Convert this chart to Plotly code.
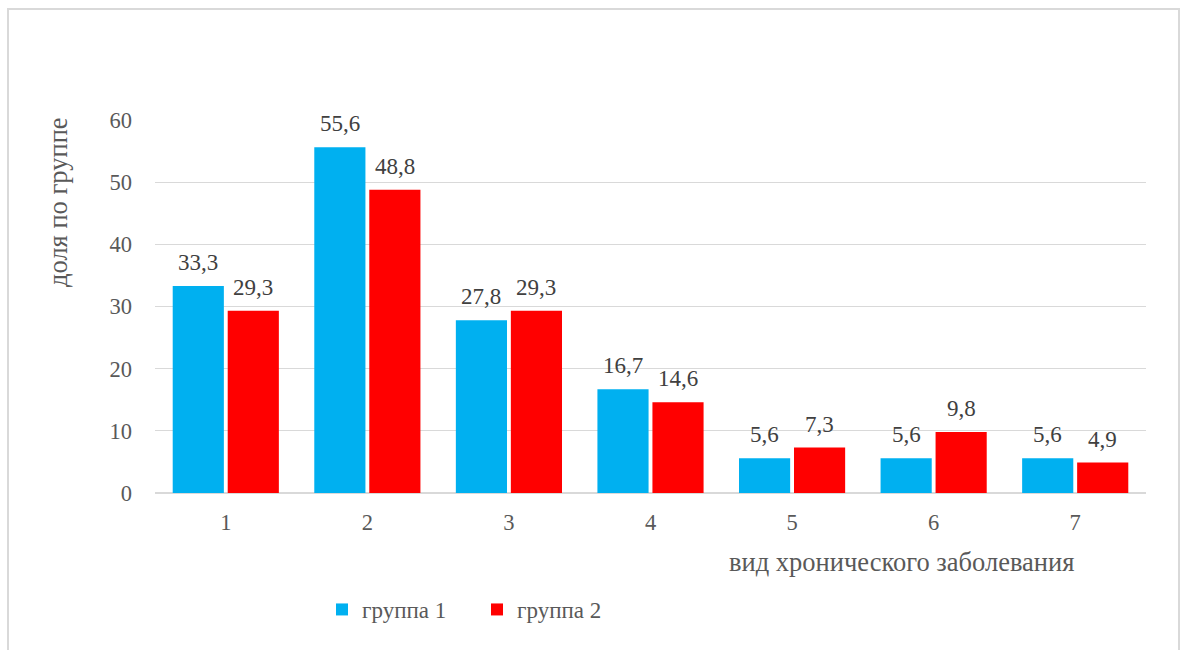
import plotly.graph_objects as go

# Chronic disease categories and share per group (%)
categories = ["1", "2", "3", "4", "5", "6", "7"]
group1 = [33.3, 55.6, 27.8, 16.7, 5.6, 5.6, 5.6]
group2 = [29.3, 48.8, 29.3, 14.6, 7.3, 9.8, 4.9]
series_names = ["группа 1", "группа 2"]
series_colors = ["#00b0f0", "#ff0000"]
y_ticks = [0, 10, 20, 30, 40, 50, 60]

W, H = 1180, 650
L, R, T, B = 155, 34, 120, 157
plot_w = W - L - R
plot_h = H - T - B

FONT = "'Liberation Serif', 'Times New Roman', serif"
TXT = "#595959"

BARGAP = 0.223
cat_w = plot_w / len(categories)
half_slot = cat_w * (1 - BARGAP) / 4  # offset of each bar centre from category centre


def fmt(v):
    return f"{v:.1f}".replace(".", ",")


def px_x(p):
    return (p - L) / plot_w


def px_y(p):
    return (H - B - p) / plot_h


fig = go.Figure()
annotations = []
for i, (name, vals, color) in enumerate(zip(series_names, [group1, group2], series_colors)):
    fig.add_trace(go.Bar(
        x=categories, y=vals, name=name,
        marker=dict(color=color, line=dict(width=0)),
    ))
    shift = -half_slot if i == 0 else half_slot
    # value labels; x given as category index on the category axis
    for k, v in enumerate(vals):
        annotations.append(dict(
            x=k, y=v, xref="x", yref="y", text=fmt(v), showarrow=False,
            xshift=shift, yshift=9, yanchor="bottom", xanchor="center",
            font=dict(family=FONT, size=23, color="#404040"),
        ))

annotations += [
    dict(text="доля по группе", xref="paper", yref="paper",
         x=px_x(58), y=px_y(202), textangle=-90, showarrow=False,
         font=dict(family=FONT, size=26.5, color=TXT),
         xanchor="center", yanchor="middle"),
    dict(text="вид хронического заболевания", xref="paper", yref="paper",
         x=px_x(1076), y=px_y(562), showarrow=False,
         font=dict(family=FONT, size=26.5, color=TXT),
         xanchor="right", yanchor="middle"),
]

fig.update_layout(
    width=W, height=H,
    margin=dict(l=L, r=R, t=T, b=B),
    paper_bgcolor="white", plot_bgcolor="white",
    barmode="group", bargap=BARGAP, bargroupgap=0.07,
    font=dict(family=FONT, color=TXT, size=22.5),
    showlegend=True,
    legend=dict(orientation="h", x=px_x(322), y=px_y(588), xanchor="left", yanchor="top",
                font=dict(family=FONT, size=23, color=TXT),
                itemwidth=30, traceorder="normal",
                entrywidth=110, entrywidthmode="pixels"),
    xaxis=dict(type="category", showgrid=False, showline=True, linecolor="#d9d9d9",
               linewidth=1, ticks="", ticklabelstandoff=9,
               tickfont=dict(size=22.5, color=TXT)),
    yaxis=dict(range=[0, 60], tickvals=y_ticks, showgrid=True, gridcolor="#d9d9d9",
               gridwidth=1, zeroline=True, zerolinecolor="#d9d9d9", showline=False,
               ticks="", ticklabelstandoff=22, tickfont=dict(size=22.5, color=TXT)),
    annotations=annotations,
    shapes=[
        dict(type="rect", xref="paper", yref="paper",
             x0=px_x(8), x1=px_x(1179), y0=px_y(662), y1=px_y(9),
             line=dict(color="#d9d9d9", width=2), fillcolor="rgba(0,0,0,0)", layer="below"),
    ],
)

fig.write_html("out.html")
